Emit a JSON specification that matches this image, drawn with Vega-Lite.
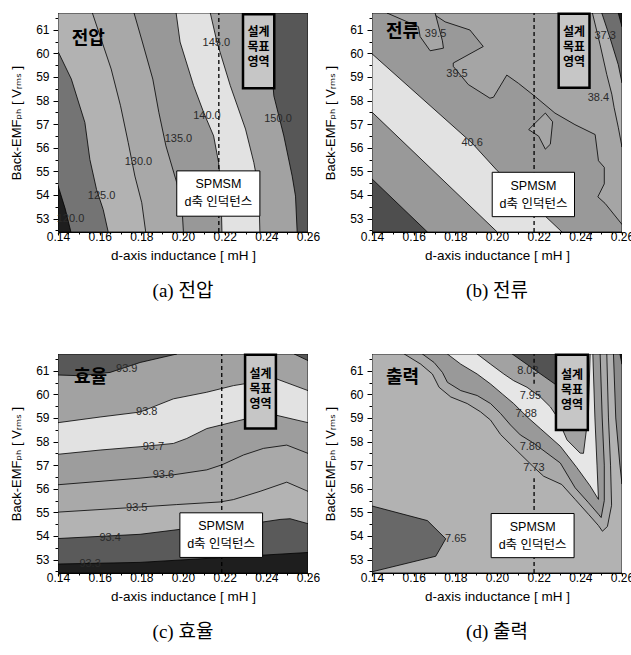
{
  "$schema": "https://vega.github.io/schema/vega-lite/v6.json",
  "padding": {"left": 10, "top": 11, "right": 0, "bottom": 0},
  "background": "white",
  "data": {"values": [
    {"p":"(a) 전압","l":0,"g":"a0","i":0,"x":0.14,"y":52.43,"b":"a0"},
    {"p":"(a) 전압","l":0,"g":"a0","i":1,"x":0.26,"y":52.43,"b":"a0"},
    {"p":"(a) 전압","l":0,"g":"a0","i":2,"x":0.26,"y":61.71,"b":"a0"},
    {"p":"(a) 전압","l":0,"g":"a0","i":3,"x":0.14,"y":61.71,"b":"a0"},
    {"p":"(a) 전압","l":1,"g":"a1","i":0,"x":0.14,"y":52.43,"b":"a1"},
    {"p":"(a) 전압","l":1,"g":"a1","i":1,"x":0.14,"y":54.4,"b":"a1"},
    {"p":"(a) 전압","l":1,"g":"a1","i":2,"x":0.1435,"y":53.4,"b":"a1"},
    {"p":"(a) 전압","l":1,"g":"a1","i":3,"x":0.1462,"y":52.43,"b":"a1"},
    {"p":"(a) 전압","l":1,"g":"a2","i":0,"x":0.14,"y":61.71,"b":"a2"},
    {"p":"(a) 전압","l":1,"g":"a2","i":1,"x":0.14,"y":60.08,"b":"a2"},
    {"p":"(a) 전압","l":1,"g":"a2","i":2,"x":0.1464,"y":58.91,"b":"a2"},
    {"p":"(a) 전압","l":1,"g":"a2","i":3,"x":0.1529,"y":57.07,"b":"a2"},
    {"p":"(a) 전압","l":1,"g":"a2","i":4,"x":0.1553,"y":55.5,"b":"a2"},
    {"p":"(a) 전압","l":1,"g":"a2","i":5,"x":0.1585,"y":54.23,"b":"a2"},
    {"p":"(a) 전압","l":1,"g":"a2","i":6,"x":0.1617,"y":53.38,"b":"a2"},
    {"p":"(a) 전압","l":1,"g":"a2","i":7,"x":0.1641,"y":52.43,"b":"a2"},
    {"p":"(a) 전압","l":1,"g":"a2","i":8,"x":0.26,"y":52.43,"b":"a2"},
    {"p":"(a) 전압","l":1,"g":"a2","i":9,"x":0.26,"y":61.71,"b":"a2"},
    {"p":"(a) 전압","l":2,"g":"a3","i":0,"x":0.1565,"y":61.71,"b":"a3"},
    {"p":"(a) 전압","l":2,"g":"a3","i":1,"x":0.1601,"y":60.76,"b":"a3"},
    {"p":"(a) 전압","l":2,"g":"a3","i":2,"x":0.1655,"y":59.34,"b":"a3"},
    {"p":"(a) 전압","l":2,"g":"a3","i":3,"x":0.17,"y":57.78,"b":"a3"},
    {"p":"(a) 전압","l":2,"g":"a3","i":4,"x":0.1737,"y":56.22,"b":"a3"},
    {"p":"(a) 전압","l":2,"g":"a3","i":5,"x":0.1769,"y":54.8,"b":"a3"},
    {"p":"(a) 전압","l":2,"g":"a3","i":6,"x":0.1802,"y":53.67,"b":"a3"},
    {"p":"(a) 전압","l":2,"g":"a3","i":7,"x":0.1821,"y":52.43,"b":"a3"},
    {"p":"(a) 전압","l":2,"g":"a3","i":8,"x":0.26,"y":52.43,"b":"a3"},
    {"p":"(a) 전압","l":2,"g":"a3","i":9,"x":0.26,"y":61.71,"b":"a3"},
    {"p":"(a) 전압","l":3,"g":"a4","i":0,"x":0.1765,"y":61.71,"b":"a4"},
    {"p":"(a) 전압","l":3,"g":"a4","i":1,"x":0.1805,"y":60.48,"b":"a4"},
    {"p":"(a) 전압","l":3,"g":"a4","i":2,"x":0.1855,"y":58.91,"b":"a4"},
    {"p":"(a) 전압","l":3,"g":"a4","i":3,"x":0.1884,"y":57.5,"b":"a4"},
    {"p":"(a) 전압","l":3,"g":"a4","i":4,"x":0.1918,"y":56.08,"b":"a4"},
    {"p":"(a) 전압","l":3,"g":"a4","i":5,"x":0.197,"y":54.52,"b":"a4"},
    {"p":"(a) 전압","l":3,"g":"a4","i":6,"x":0.1994,"y":53.67,"b":"a4"},
    {"p":"(a) 전압","l":3,"g":"a4","i":7,"x":0.2002,"y":52.43,"b":"a4"},
    {"p":"(a) 전압","l":3,"g":"a4","i":8,"x":0.26,"y":52.43,"b":"a4"},
    {"p":"(a) 전압","l":3,"g":"a4","i":9,"x":0.26,"y":61.71,"b":"a4"},
    {"p":"(a) 전압","l":4,"g":"a5","i":0,"x":0.1967,"y":61.71,"b":"a5"},
    {"p":"(a) 전압","l":4,"g":"a5","i":1,"x":0.1986,"y":60.48,"b":"a5"},
    {"p":"(a) 전압","l":4,"g":"a5","i":2,"x":0.2051,"y":58.63,"b":"a5"},
    {"p":"(a) 전압","l":4,"g":"a5","i":3,"x":0.2099,"y":57.5,"b":"a5"},
    {"p":"(a) 전압","l":4,"g":"a5","i":4,"x":0.2147,"y":56.5,"b":"a5"},
    {"p":"(a) 전압","l":4,"g":"a5","i":5,"x":0.2171,"y":55.37,"b":"a5"},
    {"p":"(a) 전압","l":4,"g":"a5","i":6,"x":0.2182,"y":54.23,"b":"a5"},
    {"p":"(a) 전압","l":4,"g":"a5","i":7,"x":0.2187,"y":52.43,"b":"a5"},
    {"p":"(a) 전압","l":4,"g":"a5","i":8,"x":0.26,"y":52.43,"b":"a5"},
    {"p":"(a) 전압","l":4,"g":"a5","i":9,"x":0.26,"y":61.71,"b":"a5"},
    {"p":"(a) 전압","l":5,"g":"a6","i":0,"x":0.2131,"y":61.71,"b":"a6"},
    {"p":"(a) 전압","l":5,"g":"a6","i":1,"x":0.2163,"y":60.48,"b":"a6"},
    {"p":"(a) 전압","l":5,"g":"a6","i":2,"x":0.2227,"y":58.63,"b":"a6"},
    {"p":"(a) 전압","l":5,"g":"a6","i":3,"x":0.23,"y":56.79,"b":"a6"},
    {"p":"(a) 전압","l":5,"g":"a6","i":4,"x":0.234,"y":55.37,"b":"a6"},
    {"p":"(a) 전압","l":5,"g":"a6","i":5,"x":0.2364,"y":54.23,"b":"a6"},
    {"p":"(a) 전압","l":5,"g":"a6","i":6,"x":0.2369,"y":52.43,"b":"a6"},
    {"p":"(a) 전압","l":5,"g":"a6","i":7,"x":0.26,"y":52.43,"b":"a6"},
    {"p":"(a) 전압","l":5,"g":"a6","i":8,"x":0.26,"y":61.71,"b":"a6"},
    {"p":"(a) 전압","l":6,"g":"a7","i":0,"x":0.2404,"y":61.71,"b":"a7"},
    {"p":"(a) 전압","l":6,"g":"a7","i":1,"x":0.242,"y":60.05,"b":"a7"},
    {"p":"(a) 전압","l":6,"g":"a7","i":2,"x":0.2436,"y":58.2,"b":"a7"},
    {"p":"(a) 전압","l":6,"g":"a7","i":3,"x":0.2484,"y":56.5,"b":"a7"},
    {"p":"(a) 전압","l":6,"g":"a7","i":4,"x":0.2524,"y":54.8,"b":"a7"},
    {"p":"(a) 전압","l":6,"g":"a7","i":5,"x":0.254,"y":53.95,"b":"a7"},
    {"p":"(a) 전압","l":6,"g":"a7","i":6,"x":0.2548,"y":52.43,"b":"a7"},
    {"p":"(a) 전압","l":6,"g":"a7","i":7,"x":0.26,"y":52.43,"b":"a7"},
    {"p":"(a) 전압","l":6,"g":"a7","i":8,"x":0.26,"y":61.71,"b":"a7"},

    {"p":"(b) 전류","l":0,"g":"b0","i":0,"x":0.14,"y":52.43,"b":"b0"},
    {"p":"(b) 전류","l":0,"g":"b0","i":1,"x":0.26,"y":52.43,"b":"b0"},
    {"p":"(b) 전류","l":0,"g":"b0","i":2,"x":0.26,"y":61.71,"b":"b0"},
    {"p":"(b) 전류","l":0,"g":"b0","i":3,"x":0.14,"y":61.71,"b":"b0"},
    {"p":"(b) 전류","l":1,"g":"b1","i":0,"x":0.14,"y":52.43,"b":"b1"},
    {"p":"(b) 전류","l":1,"g":"b1","i":1,"x":0.14,"y":54.68,"b":"b1"},
    {"p":"(b) 전류","l":1,"g":"b1","i":2,"x":0.1666,"y":52.43,"b":"b1"},
    {"p":"(b) 전류","l":1,"g":"b2","i":0,"x":0.14,"y":59.98,"b":"b2"},
    {"p":"(b) 전류","l":1,"g":"b2","i":1,"x":0.188,"y":56.2,"b":"b2"},
    {"p":"(b) 전류","l":1,"g":"b2","i":2,"x":0.2001,"y":55.03,"b":"b2"},
    {"p":"(b) 전류","l":1,"g":"b2","i":3,"x":0.2312,"y":52.43,"b":"b2"},
    {"p":"(b) 전류","l":1,"g":"b2","i":4,"x":0.2001,"y":52.43,"b":"b2"},
    {"p":"(b) 전류","l":1,"g":"b2","i":5,"x":0.14,"y":57.51,"b":"b2"},
    {"p":"(b) 전류","l":1,"g":"b3u","i":0,"x":0.1687,"y":61.71,"b":"b3"},
    {"p":"(b) 전류","l":1,"g":"b3u","i":1,"x":0.1751,"y":61.335,"b":"b3"},
    {"p":"(b) 전류","l":1,"g":"b3u","i":2,"x":0.187,"y":60.99,"b":"b3"},
    {"p":"(b) 전류","l":1,"g":"b3u","i":3,"x":0.1934,"y":60.29,"b":"b3"},
    {"p":"(b) 전류","l":1,"g":"b3u","i":4,"x":0.179,"y":59.59,"b":"b3"},
    {"p":"(b) 전류","l":1,"g":"b3u","i":5,"x":0.179,"y":59.45,"b":"b3"},
    {"p":"(b) 전류","l":1,"g":"b3u","i":6,"x":0.1862,"y":58.68,"b":"b3"},
    {"p":"(b) 전류","l":1,"g":"b3u","i":7,"x":0.1966,"y":58.1,"b":"b3"},
    {"p":"(b) 전류","l":1,"g":"b3u","i":8,"x":0.1983,"y":58.14,"b":"b3"},
    {"p":"(b) 전류","l":1,"g":"b3u","i":9,"x":0.2047,"y":59.08,"b":"b3"},
    {"p":"(b) 전류","l":1,"g":"b3u","i":10,"x":0.2103,"y":58.73,"b":"b3"},
    {"p":"(b) 전류","l":1,"g":"b3u","i":11,"x":0.2183,"y":58.17,"b":"b3"},
    {"p":"(b) 전류","l":1,"g":"b3u","i":12,"x":0.2278,"y":57.47,"b":"b3"},
    {"p":"(b) 전류","l":1,"g":"b3u","i":13,"x":0.2374,"y":56.98,"b":"b3"},
    {"p":"(b) 전류","l":1,"g":"b3u","i":14,"x":0.2471,"y":56.56,"b":"b3"},
    {"p":"(b) 전류","l":1,"g":"b3u","i":15,"x":0.2487,"y":55.45,"b":"b3"},
    {"p":"(b) 전류","l":1,"g":"b3u","i":16,"x":0.2515,"y":55.17,"b":"b3"},
    {"p":"(b) 전류","l":1,"g":"b3u","i":17,"x":0.2515,"y":54.47,"b":"b3"},
    {"p":"(b) 전류","l":1,"g":"b3u","i":18,"x":0.2484,"y":53.92,"b":"b3"},
    {"p":"(b) 전류","l":1,"g":"b3u","i":19,"x":0.2519,"y":53.64,"b":"b3"},
    {"p":"(b) 전류","l":1,"g":"b3u","i":20,"x":0.26,"y":52.75,"b":"b3"},
    {"p":"(b) 전류","l":1,"g":"b3u","i":21,"x":0.26,"y":61.71,"b":"b3"},
    {"p":"(b) 전류","l":2,"g":"b3p","i":0,"x":0.1472,"y":61.71,"b":"b3"},
    {"p":"(b) 전류","l":2,"g":"b3p","i":1,"x":0.1623,"y":61.13,"b":"b3"},
    {"p":"(b) 전류","l":2,"g":"b3p","i":2,"x":0.1631,"y":60.71,"b":"b3"},
    {"p":"(b) 전류","l":2,"g":"b3p","i":3,"x":0.1679,"y":60.11,"b":"b3"},
    {"p":"(b) 전류","l":2,"g":"b3p","i":4,"x":0.1743,"y":60.22,"b":"b3"},
    {"p":"(b) 전류","l":2,"g":"b3p","i":5,"x":0.1738,"y":60.53,"b":"b3"},
    {"p":"(b) 전류","l":2,"g":"b3p","i":6,"x":0.1703,"y":61.71,"b":"b3"},
    {"p":"(b) 전류","l":2,"g":"b3i","i":0,"x":0.2152,"y":56.77,"b":"b3"},
    {"p":"(b) 전류","l":2,"g":"b3i","i":1,"x":0.2232,"y":57.47,"b":"b3"},
    {"p":"(b) 전류","l":2,"g":"b3i","i":2,"x":0.2267,"y":57.1,"b":"b3"},
    {"p":"(b) 전류","l":2,"g":"b3i","i":3,"x":0.2256,"y":56.15,"b":"b3"},
    {"p":"(b) 전류","l":2,"g":"b3i","i":4,"x":0.2232,"y":55.94,"b":"b3"},
    {"p":"(b) 전류","l":2,"g":"b3i","i":5,"x":0.22,"y":56.49,"b":"b3"},
    {"p":"(b) 전류","l":2,"g":"b4","i":0,"x":0.2458,"y":61.71,"b":"b4"},
    {"p":"(b) 전류","l":2,"g":"b4","i":1,"x":0.2495,"y":60.36,"b":"b4"},
    {"p":"(b) 전류","l":2,"g":"b4","i":2,"x":0.2527,"y":59.1,"b":"b4"},
    {"p":"(b) 전류","l":2,"g":"b4","i":3,"x":0.2551,"y":58.27,"b":"b4"},
    {"p":"(b) 전류","l":2,"g":"b4","i":4,"x":0.2562,"y":57.71,"b":"b4"},
    {"p":"(b) 전류","l":2,"g":"b4","i":5,"x":0.2582,"y":56.87,"b":"b4"},
    {"p":"(b) 전류","l":2,"g":"b4","i":6,"x":0.26,"y":56.03,"b":"b4"},
    {"p":"(b) 전류","l":2,"g":"b4","i":7,"x":0.26,"y":61.71,"b":"b4"},
    {"p":"(b) 전류","l":3,"g":"b5","i":0,"x":0.2503,"y":61.71,"b":"b5"},
    {"p":"(b) 전류","l":3,"g":"b5","i":1,"x":0.2543,"y":60.64,"b":"b5"},
    {"p":"(b) 전류","l":3,"g":"b5","i":2,"x":0.2582,"y":59.52,"b":"b5"},
    {"p":"(b) 전류","l":3,"g":"b5","i":3,"x":0.26,"y":58.75,"b":"b5"},
    {"p":"(b) 전류","l":3,"g":"b5","i":4,"x":0.26,"y":61.71,"b":"b5"},
    {"p":"(b) 전류","l":4,"g":"b6","i":0,"x":0.2582,"y":61.71,"b":"b6"},
    {"p":"(b) 전류","l":4,"g":"b6","i":1,"x":0.26,"y":61.71,"b":"b6"},
    {"p":"(b) 전류","l":4,"g":"b6","i":2,"x":0.26,"y":61.13,"b":"b6"},

    {"p":"(c) 효율","l":0,"g":"c0","i":0,"x":0.14,"y":52.43,"b":"c0"},
    {"p":"(c) 효율","l":0,"g":"c0","i":1,"x":0.26,"y":52.43,"b":"c0"},
    {"p":"(c) 효율","l":0,"g":"c0","i":2,"x":0.26,"y":61.71,"b":"c0"},
    {"p":"(c) 효율","l":0,"g":"c0","i":3,"x":0.14,"y":61.71,"b":"c0"},
    {"p":"(c) 효율","l":1,"g":"c1","i":0,"x":0.14,"y":52.81,"b":"c1"},
    {"p":"(c) 효율","l":1,"g":"c1","i":1,"x":0.1794,"y":52.88,"b":"c1"},
    {"p":"(c) 효율","l":1,"g":"c1","i":2,"x":0.26,"y":53.3,"b":"c1"},
    {"p":"(c) 효율","l":1,"g":"c1","i":3,"x":0.26,"y":61.71,"b":"c1"},
    {"p":"(c) 효율","l":1,"g":"c1","i":4,"x":0.14,"y":61.71,"b":"c1"},
    {"p":"(c) 효율","l":2,"g":"c2","i":0,"x":0.14,"y":53.89,"b":"c2"},
    {"p":"(c) 효율","l":2,"g":"c2","i":1,"x":0.1794,"y":54.07,"b":"c2"},
    {"p":"(c) 효율","l":2,"g":"c2","i":2,"x":0.2114,"y":54.42,"b":"c2"},
    {"p":"(c) 효율","l":2,"g":"c2","i":3,"x":0.2306,"y":54.49,"b":"c2"},
    {"p":"(c) 효율","l":2,"g":"c2","i":4,"x":0.2466,"y":54.7,"b":"c2"},
    {"p":"(c) 효율","l":2,"g":"c2","i":5,"x":0.2514,"y":54.73,"b":"c2"},
    {"p":"(c) 효율","l":2,"g":"c2","i":6,"x":0.26,"y":54.52,"b":"c2"},
    {"p":"(c) 효율","l":2,"g":"c2","i":7,"x":0.26,"y":61.71,"b":"c2"},
    {"p":"(c) 효율","l":2,"g":"c2","i":8,"x":0.14,"y":61.71,"b":"c2"},
    {"p":"(c) 효율","l":3,"g":"c3","i":0,"x":0.14,"y":55.01,"b":"c3"},
    {"p":"(c) 효율","l":3,"g":"c3","i":1,"x":0.173,"y":55.19,"b":"c3"},
    {"p":"(c) 효율","l":3,"g":"c3","i":2,"x":0.197,"y":55.33,"b":"c3"},
    {"p":"(c) 효율","l":3,"g":"c3","i":3,"x":0.2178,"y":55.44,"b":"c3"},
    {"p":"(c) 효율","l":3,"g":"c3","i":4,"x":0.2242,"y":55.54,"b":"c3"},
    {"p":"(c) 효율","l":3,"g":"c3","i":5,"x":0.237,"y":55.89,"b":"c3"},
    {"p":"(c) 효율","l":3,"g":"c3","i":6,"x":0.2498,"y":56.28,"b":"c3"},
    {"p":"(c) 효율","l":3,"g":"c3","i":7,"x":0.26,"y":55.89,"b":"c3"},
    {"p":"(c) 효율","l":3,"g":"c3","i":8,"x":0.26,"y":61.71,"b":"c3"},
    {"p":"(c) 효율","l":3,"g":"c3","i":9,"x":0.14,"y":61.71,"b":"c3"},
    {"p":"(c) 효율","l":4,"g":"c4","i":0,"x":0.14,"y":56.17,"b":"c4"},
    {"p":"(c) 효율","l":4,"g":"c4","i":1,"x":0.1794,"y":56.45,"b":"c4"},
    {"p":"(c) 효율","l":4,"g":"c4","i":2,"x":0.1954,"y":56.59,"b":"c4"},
    {"p":"(c) 효율","l":4,"g":"c4","i":3,"x":0.2114,"y":56.8,"b":"c4"},
    {"p":"(c) 효율","l":4,"g":"c4","i":4,"x":0.2186,"y":57.01,"b":"c4"},
    {"p":"(c) 효율","l":4,"g":"c4","i":5,"x":0.229,"y":57.43,"b":"c4"},
    {"p":"(c) 효율","l":4,"g":"c4","i":6,"x":0.2386,"y":57.71,"b":"c4"},
    {"p":"(c) 효율","l":4,"g":"c4","i":7,"x":0.2498,"y":57.85,"b":"c4"},
    {"p":"(c) 효율","l":4,"g":"c4","i":8,"x":0.26,"y":57.5,"b":"c4"},
    {"p":"(c) 효율","l":4,"g":"c4","i":9,"x":0.26,"y":61.71,"b":"c4"},
    {"p":"(c) 효율","l":4,"g":"c4","i":10,"x":0.14,"y":61.71,"b":"c4"},
    {"p":"(c) 효율","l":5,"g":"c5","i":0,"x":0.14,"y":57.46,"b":"c5"},
    {"p":"(c) 효율","l":5,"g":"c5","i":1,"x":0.1602,"y":57.64,"b":"c5"},
    {"p":"(c) 효율","l":5,"g":"c5","i":2,"x":0.1794,"y":57.78,"b":"c5"},
    {"p":"(c) 효율","l":5,"g":"c5","i":3,"x":0.1954,"y":57.92,"b":"c5"},
    {"p":"(c) 효율","l":5,"g":"c5","i":4,"x":0.2018,"y":58.13,"b":"c5"},
    {"p":"(c) 효율","l":5,"g":"c5","i":5,"x":0.2114,"y":58.55,"b":"c5"},
    {"p":"(c) 효율","l":5,"g":"c5","i":6,"x":0.2242,"y":58.83,"b":"c5"},
    {"p":"(c) 효율","l":5,"g":"c5","i":7,"x":0.2338,"y":59.04,"b":"c5"},
    {"p":"(c) 효율","l":5,"g":"c5","i":8,"x":0.245,"y":59.11,"b":"c5"},
    {"p":"(c) 효율","l":5,"g":"c5","i":9,"x":0.26,"y":58.8,"b":"c5"},
    {"p":"(c) 효율","l":5,"g":"c5","i":10,"x":0.26,"y":61.71,"b":"c5"},
    {"p":"(c) 효율","l":5,"g":"c5","i":11,"x":0.14,"y":61.71,"b":"c5"},
    {"p":"(c) 효율","l":6,"g":"c6","i":0,"x":0.14,"y":58.8,"b":"c6"},
    {"p":"(c) 효율","l":6,"g":"c6","i":1,"x":0.1602,"y":59.04,"b":"c6"},
    {"p":"(c) 효율","l":6,"g":"c6","i":2,"x":0.1794,"y":59.25,"b":"c6"},
    {"p":"(c) 효율","l":6,"g":"c6","i":3,"x":0.1954,"y":59.81,"b":"c6"},
    {"p":"(c) 효율","l":6,"g":"c6","i":4,"x":0.2114,"y":60.09,"b":"c6"},
    {"p":"(c) 효율","l":6,"g":"c6","i":5,"x":0.2242,"y":60.37,"b":"c6"},
    {"p":"(c) 효율","l":6,"g":"c6","i":6,"x":0.2338,"y":60.51,"b":"c6"},
    {"p":"(c) 효율","l":6,"g":"c6","i":7,"x":0.245,"y":60.65,"b":"c6"},
    {"p":"(c) 효율","l":6,"g":"c6","i":8,"x":0.26,"y":60.16,"b":"c6"},
    {"p":"(c) 효율","l":6,"g":"c6","i":9,"x":0.26,"y":61.71,"b":"c6"},
    {"p":"(c) 효율","l":6,"g":"c6","i":10,"x":0.14,"y":61.71,"b":"c6"},
    {"p":"(c) 효율","l":7,"g":"c7","i":0,"x":0.14,"y":60.82,"b":"c7"},
    {"p":"(c) 효율","l":7,"g":"c7","i":1,"x":0.1506,"y":60.79,"b":"c7"},
    {"p":"(c) 효율","l":7,"g":"c7","i":2,"x":0.165,"y":60.93,"b":"c7"},
    {"p":"(c) 효율","l":7,"g":"c7","i":3,"x":0.1794,"y":61.35,"b":"c7"},
    {"p":"(c) 효율","l":7,"g":"c7","i":4,"x":0.197,"y":61.71,"b":"c7"},
    {"p":"(c) 효율","l":7,"g":"c7","i":5,"x":0.14,"y":61.71,"b":"c7"},
    {"p":"(c) 효율","l":7,"g":"c7b","i":0,"x":0.2534,"y":61.71,"b":"c7"},
    {"p":"(c) 효율","l":7,"g":"c7b","i":1,"x":0.26,"y":61.71,"b":"c7"},
    {"p":"(c) 효율","l":7,"g":"c7b","i":2,"x":0.26,"y":61.43,"b":"c7"},

    {"p":"(d) 출력","l":0,"g":"d0","i":0,"x":0.14,"y":52.43,"b":"d0"},
    {"p":"(d) 출력","l":0,"g":"d0","i":1,"x":0.26,"y":52.43,"b":"d0"},
    {"p":"(d) 출력","l":0,"g":"d0","i":2,"x":0.26,"y":61.71,"b":"d0"},
    {"p":"(d) 출력","l":0,"g":"d0","i":3,"x":0.14,"y":61.71,"b":"d0"},
    {"p":"(d) 출력","l":1,"g":"d1","i":0,"x":0.14,"y":55.27,"b":"d1"},
    {"p":"(d) 출력","l":1,"g":"d1","i":1,"x":0.1666,"y":54.65,"b":"d1"},
    {"p":"(d) 출력","l":1,"g":"d1","i":2,"x":0.1754,"y":53.88,"b":"d1"},
    {"p":"(d) 출력","l":1,"g":"d1","i":3,"x":0.1706,"y":53.14,"b":"d1"},
    {"p":"(d) 출력","l":1,"g":"d1","i":4,"x":0.14,"y":52.48,"b":"d1"},
    {"p":"(d) 출력","l":1,"g":"d2","i":0,"x":0.1555,"y":61.71,"b":"d2"},
    {"p":"(d) 출력","l":1,"g":"d2","i":1,"x":0.1634,"y":61.28,"b":"d2"},
    {"p":"(d) 출력","l":1,"g":"d2","i":2,"x":0.169,"y":60.86,"b":"d2"},
    {"p":"(d) 출력","l":1,"g":"d2","i":3,"x":0.1722,"y":60.3,"b":"d2"},
    {"p":"(d) 출력","l":1,"g":"d2","i":4,"x":0.1778,"y":59.89,"b":"d2"},
    {"p":"(d) 출력","l":1,"g":"d2","i":5,"x":0.1857,"y":59.61,"b":"d2"},
    {"p":"(d) 출력","l":1,"g":"d2","i":6,"x":0.1921,"y":59.26,"b":"d2"},
    {"p":"(d) 출력","l":1,"g":"d2","i":7,"x":0.1969,"y":58.91,"b":"d2"},
    {"p":"(d) 출력","l":1,"g":"d2","i":8,"x":0.2017,"y":58.3,"b":"d2"},
    {"p":"(d) 출력","l":1,"g":"d2","i":9,"x":0.2097,"y":57.6,"b":"d2"},
    {"p":"(d) 출력","l":1,"g":"d2","i":10,"x":0.2176,"y":56.92,"b":"d2"},
    {"p":"(d) 출력","l":1,"g":"d2","i":11,"x":0.2224,"y":56.53,"b":"d2"},
    {"p":"(d) 출력","l":1,"g":"d2","i":12,"x":0.2311,"y":56.18,"b":"d2"},
    {"p":"(d) 출력","l":1,"g":"d2","i":13,"x":0.2375,"y":55.55,"b":"d2"},
    {"p":"(d) 출력","l":1,"g":"d2","i":14,"x":0.2439,"y":54.92,"b":"d2"},
    {"p":"(d) 출력","l":1,"g":"d2","i":15,"x":0.2487,"y":54.44,"b":"d2"},
    {"p":"(d) 출력","l":1,"g":"d2","i":16,"x":0.2506,"y":54.2,"b":"d2"},
    {"p":"(d) 출력","l":1,"g":"d2","i":17,"x":0.253,"y":54.4,"b":"d2"},
    {"p":"(d) 출력","l":1,"g":"d2","i":18,"x":0.255,"y":55.3,"b":"d2"},
    {"p":"(d) 출력","l":1,"g":"d2","i":19,"x":0.2545,"y":57.0,"b":"d2"},
    {"p":"(d) 출력","l":1,"g":"d2","i":20,"x":0.2535,"y":59.0,"b":"d2"},
    {"p":"(d) 출력","l":1,"g":"d2","i":21,"x":0.2527,"y":61.71,"b":"d2"},
    {"p":"(d) 출력","l":1,"g":"d7","i":0,"x":0.2559,"y":61.71,"b":"d7"},
    {"p":"(d) 출력","l":1,"g":"d7","i":1,"x":0.257,"y":59.0,"b":"d7"},
    {"p":"(d) 출력","l":1,"g":"d7","i":2,"x":0.259,"y":57.0,"b":"d7"},
    {"p":"(d) 출력","l":1,"g":"d7","i":3,"x":0.26,"y":56.2,"b":"d7"},
    {"p":"(d) 출력","l":1,"g":"d7","i":4,"x":0.26,"y":61.71,"b":"d7"},
    {"p":"(d) 출력","l":2,"g":"d8","i":0,"x":0.259,"y":61.71,"b":"d8"},
    {"p":"(d) 출력","l":2,"g":"d8","i":1,"x":0.26,"y":61.71,"b":"d8"},
    {"p":"(d) 출력","l":2,"g":"d8","i":2,"x":0.26,"y":61.28,"b":"d8"},
    {"p":"(d) 출력","l":2,"g":"d3","i":0,"x":0.1642,"y":61.71,"b":"d3"},
    {"p":"(d) 출력","l":2,"g":"d3","i":1,"x":0.1698,"y":61.35,"b":"d3"},
    {"p":"(d) 출력","l":2,"g":"d3","i":2,"x":0.1738,"y":60.93,"b":"d3"},
    {"p":"(d) 출력","l":2,"g":"d3","i":3,"x":0.1762,"y":60.51,"b":"d3"},
    {"p":"(d) 출력","l":2,"g":"d3","i":4,"x":0.1826,"y":60.16,"b":"d3"},
    {"p":"(d) 출력","l":2,"g":"d3","i":5,"x":0.1905,"y":59.95,"b":"d3"},
    {"p":"(d) 출력","l":2,"g":"d3","i":6,"x":0.1969,"y":59.61,"b":"d3"},
    {"p":"(d) 출력","l":2,"g":"d3","i":7,"x":0.2017,"y":59.19,"b":"d3"},
    {"p":"(d) 출력","l":2,"g":"d3","i":8,"x":0.2065,"y":58.7,"b":"d3"},
    {"p":"(d) 출력","l":2,"g":"d3","i":9,"x":0.2112,"y":58.28,"b":"d3"},
    {"p":"(d) 출력","l":2,"g":"d3","i":10,"x":0.2176,"y":57.93,"b":"d3"},
    {"p":"(d) 출력","l":2,"g":"d3","i":11,"x":0.224,"y":57.51,"b":"d3"},
    {"p":"(d) 출력","l":2,"g":"d3","i":12,"x":0.2304,"y":57.09,"b":"d3"},
    {"p":"(d) 출력","l":2,"g":"d3","i":13,"x":0.2375,"y":56.04,"b":"d3"},
    {"p":"(d) 출력","l":2,"g":"d3","i":14,"x":0.2439,"y":55.41,"b":"d3"},
    {"p":"(d) 출력","l":2,"g":"d3","i":15,"x":0.2487,"y":54.92,"b":"d3"},
    {"p":"(d) 출력","l":2,"g":"d3","i":16,"x":0.25,"y":54.78,"b":"d3"},
    {"p":"(d) 출력","l":2,"g":"d3","i":17,"x":0.2515,"y":55.5,"b":"d3"},
    {"p":"(d) 출력","l":2,"g":"d3","i":18,"x":0.2515,"y":57.0,"b":"d3"},
    {"p":"(d) 출력","l":2,"g":"d3","i":19,"x":0.2505,"y":59.0,"b":"d3"},
    {"p":"(d) 출력","l":2,"g":"d3","i":20,"x":0.2495,"y":61.71,"b":"d3"},
    {"p":"(d) 출력","l":3,"g":"d4","i":0,"x":0.1762,"y":61.71,"b":"d4"},
    {"p":"(d) 출력","l":3,"g":"d4","i":1,"x":0.1826,"y":61.28,"b":"d4"},
    {"p":"(d) 출력","l":3,"g":"d4","i":2,"x":0.1905,"y":60.86,"b":"d4"},
    {"p":"(d) 출력","l":3,"g":"d4","i":3,"x":0.1969,"y":60.44,"b":"d4"},
    {"p":"(d) 출력","l":3,"g":"d4","i":4,"x":0.2025,"y":60.02,"b":"d4"},
    {"p":"(d) 출력","l":3,"g":"d4","i":5,"x":0.208,"y":59.61,"b":"d4"},
    {"p":"(d) 출력","l":3,"g":"d4","i":6,"x":0.2144,"y":59.05,"b":"d4"},
    {"p":"(d) 출력","l":3,"g":"d4","i":7,"x":0.2208,"y":58.55,"b":"d4"},
    {"p":"(d) 출력","l":3,"g":"d4","i":8,"x":0.2304,"y":57.8,"b":"d4"},
    {"p":"(d) 출력","l":3,"g":"d4","i":9,"x":0.2383,"y":56.9,"b":"d4"},
    {"p":"(d) 출력","l":3,"g":"d4","i":10,"x":0.2447,"y":56.12,"b":"d4"},
    {"p":"(d) 출력","l":3,"g":"d4","i":11,"x":0.2487,"y":55.55,"b":"d4"},
    {"p":"(d) 출력","l":3,"g":"d4","i":12,"x":0.248,"y":57.0,"b":"d4"},
    {"p":"(d) 출력","l":3,"g":"d4","i":13,"x":0.247,"y":59.0,"b":"d4"},
    {"p":"(d) 출력","l":3,"g":"d4","i":14,"x":0.246,"y":61.71,"b":"d4"},
    {"p":"(d) 출력","l":4,"g":"d5","i":0,"x":0.1905,"y":61.71,"b":"d5"},
    {"p":"(d) 출력","l":4,"g":"d5","i":1,"x":0.1969,"y":61.28,"b":"d5"},
    {"p":"(d) 출력","l":4,"g":"d5","i":2,"x":0.2033,"y":60.86,"b":"d5"},
    {"p":"(d) 출력","l":4,"g":"d5","i":3,"x":0.208,"y":60.58,"b":"d5"},
    {"p":"(d) 출력","l":4,"g":"d5","i":4,"x":0.2144,"y":60.3,"b":"d5"},
    {"p":"(d) 출력","l":4,"g":"d5","i":5,"x":0.2208,"y":59.89,"b":"d5"},
    {"p":"(d) 출력","l":4,"g":"d5","i":6,"x":0.2256,"y":59.47,"b":"d5"},
    {"p":"(d) 출력","l":4,"g":"d5","i":7,"x":0.2288,"y":59.05,"b":"d5"},
    {"p":"(d) 출력","l":4,"g":"d5","i":8,"x":0.2336,"y":58.07,"b":"d5"},
    {"p":"(d) 출력","l":4,"g":"d5","i":9,"x":0.2399,"y":57.51,"b":"d5"},
    {"p":"(d) 출력","l":4,"g":"d5","i":10,"x":0.2415,"y":57.5,"b":"d5"},
    {"p":"(d) 출력","l":4,"g":"d5","i":11,"x":0.2439,"y":59.19,"b":"d5"},
    {"p":"(d) 출력","l":4,"g":"d5","i":12,"x":0.2447,"y":61.71,"b":"d5"},
    {"p":"(d) 출력","l":5,"g":"d6","i":0,"x":0.2073,"y":61.71,"b":"d6"},
    {"p":"(d) 출력","l":5,"g":"d6","i":1,"x":0.23,"y":60.3,"b":"d6"},
    {"p":"(d) 출력","l":5,"g":"d6","i":2,"x":0.23,"y":61.71,"b":"d6"},

    {"p":"(a) 전압","k":"lb","x":0.146,"y":52.96,"t":"120.0"},
    {"p":"(a) 전압","k":"lb","x":0.1609,"y":53.95,"t":"125.0"},
    {"p":"(a) 전압","k":"lb","x":0.1786,"y":55.4,"t":"130.0"},
    {"p":"(a) 전압","k":"lb","x":0.1978,"y":56.36,"t":"135.0"},
    {"p":"(a) 전압","k":"lb","x":0.2115,"y":57.35,"t":"140.0"},
    {"p":"(a) 전압","k":"lb","x":0.216,"y":60.45,"t":"145.0"},
    {"p":"(a) 전압","k":"lb","x":0.2456,"y":57.21,"t":"150.0"},
    {"p":"(b) 전류","k":"lb","x":0.1705,"y":60.8,"t":"39.5"},
    {"p":"(b) 전류","k":"lb","x":0.1808,"y":59.14,"t":"39.5"},
    {"p":"(b) 전류","k":"lb","x":0.1881,"y":56.22,"t":"40.6"},
    {"p":"(b) 전류","k":"lb","x":0.2519,"y":60.72,"t":"37.3"},
    {"p":"(b) 전류","k":"lb","x":0.2487,"y":58.1,"t":"38.4"},
    {"p":"(c) 효율","k":"lb","x":0.173,"y":61.07,"t":"93.9"},
    {"p":"(c) 효율","k":"lb","x":0.1826,"y":59.25,"t":"93.8"},
    {"p":"(c) 효율","k":"lb","x":0.1858,"y":57.78,"t":"93.7"},
    {"p":"(c) 효율","k":"lb","x":0.1906,"y":56.59,"t":"93.6"},
    {"p":"(c) 효율","k":"lb","x":0.1778,"y":55.19,"t":"93.5"},
    {"p":"(c) 효율","k":"lb","x":0.165,"y":53.93,"t":"93.4"},
    {"p":"(c) 효율","k":"lb","x":0.1554,"y":52.81,"t":"93.3"},
    {"p":"(d) 출력","k":"lb","x":0.2148,"y":61.0,"t":"8.03"},
    {"p":"(d) 출력","k":"lb","x":0.216,"y":59.95,"t":"7.95"},
    {"p":"(d) 출력","k":"lb","x":0.214,"y":59.15,"t":"7.88"},
    {"p":"(d) 출력","k":"lb","x":0.216,"y":57.79,"t":"7.80"},
    {"p":"(d) 출력","k":"lb","x":0.2177,"y":56.88,"t":"7.73"},
    {"p":"(d) 출력","k":"lb","x":0.1802,"y":53.88,"t":"7.65"},

    {"p":"(a) 전압","k":"nm","x":0.1466,"y":60.62,"t":"전압"},
    {"p":"(b) 전류","k":"nm","x":0.1467,"y":60.89,"t":"전류"},
    {"p":"(c) 효율","k":"nm","x":0.1477,"y":60.69,"t":"효율"},
    {"p":"(d) 출력","k":"nm","x":0.1467,"y":60.69,"t":"출력"},

    {"p":"(a) 전압","k":"ds","x":0.2172,"y":52.43,"y2":61.71},
    {"p":"(b) 전류","k":"ds","x":0.2178,"y":52.43,"y2":61.71},
    {"p":"(c) 효율","k":"ds","x":0.2186,"y":52.43,"y2":61.71},
    {"p":"(d) 출력","k":"ds","x":0.2178,"y":60.45,"y2":61.71},
    {"p":"(d) 출력","k":"ds","x":0.2178,"y":52.43,"y2":56.45},

    {"p":"(a) 전압","k":"db","x":0.2288,"x2":0.2438,"y":58.52,"y2":61.66},
    {"p":"(b) 전류","k":"db","x":0.2296,"x2":0.2444,"y":58.54,"y2":61.68},
    {"p":"(c) 효율","k":"db","x":0.2298,"x2":0.2446,"y":58.55,"y2":61.68},
    {"p":"(d) 출력","k":"db","x":0.2283,"x2":0.2436,"y":58.49,"y2":61.68},

    {"p":"(a) 전압","k":"dt","x":0.2363,"y":60.89,"t":"설계\n목표\n영역"},
    {"p":"(b) 전류","k":"dt","x":0.237,"y":60.91,"t":"설계\n목표\n영역"},
    {"p":"(c) 효율","k":"dt","x":0.2372,"y":60.87,"t":"설계\n목표\n영역"},
    {"p":"(d) 출력","k":"dt","x":0.236,"y":60.81,"t":"설계\n목표\n영역"},

    {"p":"(a) 전압","k":"sb","x":0.197,"x2":0.2369,"y":53.1,"y2":55.02},
    {"p":"(b) 전류","k":"sb","x":0.1977,"x2":0.2372,"y":53.08,"y2":54.96},
    {"p":"(c) 효율","k":"sb","x":0.1985,"x2":0.2382,"y":53.09,"y2":54.98},
    {"p":"(d) 출력","k":"sb","x":0.1972,"x2":0.237,"y":53.08,"y2":54.95},

    {"p":"(a) 전압","k":"st","x":0.217,"y":54.47,"t":"SPMSM\nd축 인덕턴스"},
    {"p":"(b) 전류","k":"st","x":0.2175,"y":54.4,"t":"SPMSM\nd축 인덕턴스"},
    {"p":"(c) 효율","k":"st","x":0.2183,"y":54.41,"t":"SPMSM\nd축 인덕턴스"},
    {"p":"(d) 출력","k":"st","x":0.2171,"y":54.39,"t":"SPMSM\nd축 인덕턴스"}
  ]},
  "facet": {"field": "p", "type": "nominal",
    "header": {"title": null, "labelOrient": "bottom", "labelFontSize": 19,
      "labelFont": "Liberation Serif, Noto Sans CJK KR", "labelColor": "black", "labelPadding": 20}},
  "columns": 2,
  "spacing": {"row": 51, "column": 4},
  "resolve": {"axis": {"x": "independent", "y": "independent"}},
  "spec": {
    "width": 250,
    "height": 219,
    "encoding": {
      "x": {"field": "x", "type": "quantitative",
        "scale": {"domain": [0.14, 0.26], "nice": false, "zero": false},
        "axis": {
          "title": "d-axis inductance [ mH ]",
          "values": [0.14,0.145,0.15,0.155,0.16,0.165,0.17,0.175,0.18,0.185,0.19,0.195,0.2,0.205,0.21,0.215,0.22,0.225,0.23,0.235,0.24,0.245,0.25,0.255,0.26],
          "labelExpr": "abs(datum.value*50 - round(datum.value*50)) < 0.001 ? format(datum.value, '.2f') : ''",
          "tickSize": {"condition": {"test": "abs(datum.value*50 - round(datum.value*50)) < 0.001", "value": 3}, "value": 2},
          "labelFlush": false, "labelOverlap": false, "labelPadding": -4, "titlePadding": 6, "titleFontSize": 13.5
        }},
      "y": {"field": "y", "type": "quantitative",
        "scale": {"domain": [52.43, 61.71], "nice": false, "zero": false},
        "axis": {
          "title": "Back-EMFₚₕ [ Vᵣₘₛ ]",
          "values": [52.5,53,53.5,54,54.5,55,55.5,56,56.5,57,57.5,58,58.5,59,59.5,60,60.5,61,61.5],
          "labelExpr": "datum.value % 1 === 0 ? format(datum.value, 'd') : ''",
          "tickSize": {"condition": {"test": "datum.value % 1 === 0", "value": 5}, "value": 3},
          "labelFlush": false, "labelOverlap": false, "labelPadding": 4, "titlePadding": 12
        }}
    },
    "layer": [
      {"transform": [{"filter": "datum.l === 0"}], "mark": {"type": "line", "filled": true, "interpolate": "linear-closed", "stroke": "black", "strokeWidth": 0.8, "clip": true},
       "encoding": {"detail": {"field": "g"}, "order": {"field": "i", "type": "quantitative"}, "color": {"field": "b", "type": "nominal", "legend": null,
         "scale": {"domain": ["a0","a1","a2","a3","a4","a5","a6","a7","b0","b1","b2","b3","b4","b5","b6","c0","c1","c2","c3","c4","c5","c6","c7","d0","d1","d2","d3","d4","d5","d6","d7","d8"],
                   "range": ["#747474","#1e1e1e","#b2b2b2","#a8a8a8","#989898","#e2e2e2","#a2a2a2","#575757","#999999","#4e4e4e","#e2e2e2","#a5a5a5","#b0b0b0","#6e6e6e","#1e1e1e","#1e1e1e","#5a5a5a","#b3b3b3","#a9a9a9","#9d9d9d","#e2e2e2","#a2a2a2","#585858","#b2b2b2","#686868","#a9a9a9","#999999","#e6e6e6","#a2a2a2","#535353","#8c8c8c","#1e1e1e"]}}}},
      {"transform": [{"filter": "datum.l === 1"}], "mark": {"type": "line", "filled": true, "interpolate": "linear-closed", "stroke": "black", "strokeWidth": 0.8, "clip": true},
       "encoding": {"detail": {"field": "g"}, "order": {"field": "i", "type": "quantitative"}, "color": {"field": "b", "type": "nominal", "legend": null}}},
      {"transform": [{"filter": "datum.l === 2"}], "mark": {"type": "line", "filled": true, "interpolate": "linear-closed", "stroke": "black", "strokeWidth": 0.8, "clip": true},
       "encoding": {"detail": {"field": "g"}, "order": {"field": "i", "type": "quantitative"}, "color": {"field": "b", "type": "nominal", "legend": null}}},
      {"transform": [{"filter": "datum.l === 3"}], "mark": {"type": "line", "filled": true, "interpolate": "linear-closed", "stroke": "black", "strokeWidth": 0.8, "clip": true},
       "encoding": {"detail": {"field": "g"}, "order": {"field": "i", "type": "quantitative"}, "color": {"field": "b", "type": "nominal", "legend": null}}},
      {"transform": [{"filter": "datum.l === 4"}], "mark": {"type": "line", "filled": true, "interpolate": "linear-closed", "stroke": "black", "strokeWidth": 0.8, "clip": true},
       "encoding": {"detail": {"field": "g"}, "order": {"field": "i", "type": "quantitative"}, "color": {"field": "b", "type": "nominal", "legend": null}}},
      {"transform": [{"filter": "datum.l === 5"}], "mark": {"type": "line", "filled": true, "interpolate": "linear-closed", "stroke": "black", "strokeWidth": 0.8, "clip": true},
       "encoding": {"detail": {"field": "g"}, "order": {"field": "i", "type": "quantitative"}, "color": {"field": "b", "type": "nominal", "legend": null}}},
      {"transform": [{"filter": "datum.l === 6"}], "mark": {"type": "line", "filled": true, "interpolate": "linear-closed", "stroke": "black", "strokeWidth": 0.8, "clip": true},
       "encoding": {"detail": {"field": "g"}, "order": {"field": "i", "type": "quantitative"}, "color": {"field": "b", "type": "nominal", "legend": null}}},
      {"transform": [{"filter": "datum.l === 7"}], "mark": {"type": "line", "filled": true, "interpolate": "linear-closed", "stroke": "black", "strokeWidth": 0.8, "clip": true},
       "encoding": {"detail": {"field": "g"}, "order": {"field": "i", "type": "quantitative"}, "color": {"field": "b", "type": "nominal", "legend": null}}},
      {"transform": [{"filter": "datum.k === 'ds'"}], "mark": {"type": "rule", "color": "black", "strokeWidth": 1.3, "strokeDash": [4, 3]},
       "encoding": {"y2": {"field": "y2"}}},
      {"transform": [{"filter": "datum.k === 'lb'"}], "mark": {"type": "text", "fontSize": 11, "color": "#2a2a2a", "font": "Liberation Sans"},
       "encoding": {"text": {"field": "t"}}},
      {"transform": [{"filter": "datum.k === 'nm'"}], "mark": {"type": "text", "fontSize": 18, "fontWeight": "bold", "align": "left", "color": "black", "font": "Noto Sans CJK KR"},
       "encoding": {"text": {"field": "t"}}},
      {"transform": [{"filter": "datum.k === 'db'"}], "mark": {"type": "rect", "fill": "#c6c6c6", "stroke": "black", "strokeWidth": 2.5},
       "encoding": {"x2": {"field": "x2"}, "y2": {"field": "y2"}}},
      {"transform": [{"filter": "datum.k === 'dt'"}], "mark": {"type": "text", "fontSize": 12, "fontWeight": "bold", "lineBreak": "\n", "lineHeight": 15, "color": "black", "font": "Noto Sans CJK KR"},
       "encoding": {"text": {"field": "t"}}},
      {"transform": [{"filter": "datum.k === 'sb'"}], "mark": {"type": "rect", "fill": "white", "stroke": "black", "strokeWidth": 1},
       "encoding": {"x2": {"field": "x2"}, "y2": {"field": "y2"}}},
      {"transform": [{"filter": "datum.k === 'st'"}], "mark": {"type": "text", "fontSize": 12.5, "lineBreak": "\n", "lineHeight": 18, "color": "black", "font": "Liberation Sans, Noto Sans CJK KR"},
       "encoding": {"text": {"field": "t"}}}
    ]
  },
  "config": {
    "view": {"stroke": null},
    "font": "Liberation Sans, Noto Sans CJK KR",
    "axis": {"grid": false, "domainColor": "black", "tickColor": "black", "labelColor": "black", "titleColor": "black",
             "labelFontSize": 12, "titleFontSize": 13, "titleFontWeight": "normal", "labelFont": "Liberation Sans", "titleFont": "Liberation Sans, DejaVu Sans"}
  }
}
